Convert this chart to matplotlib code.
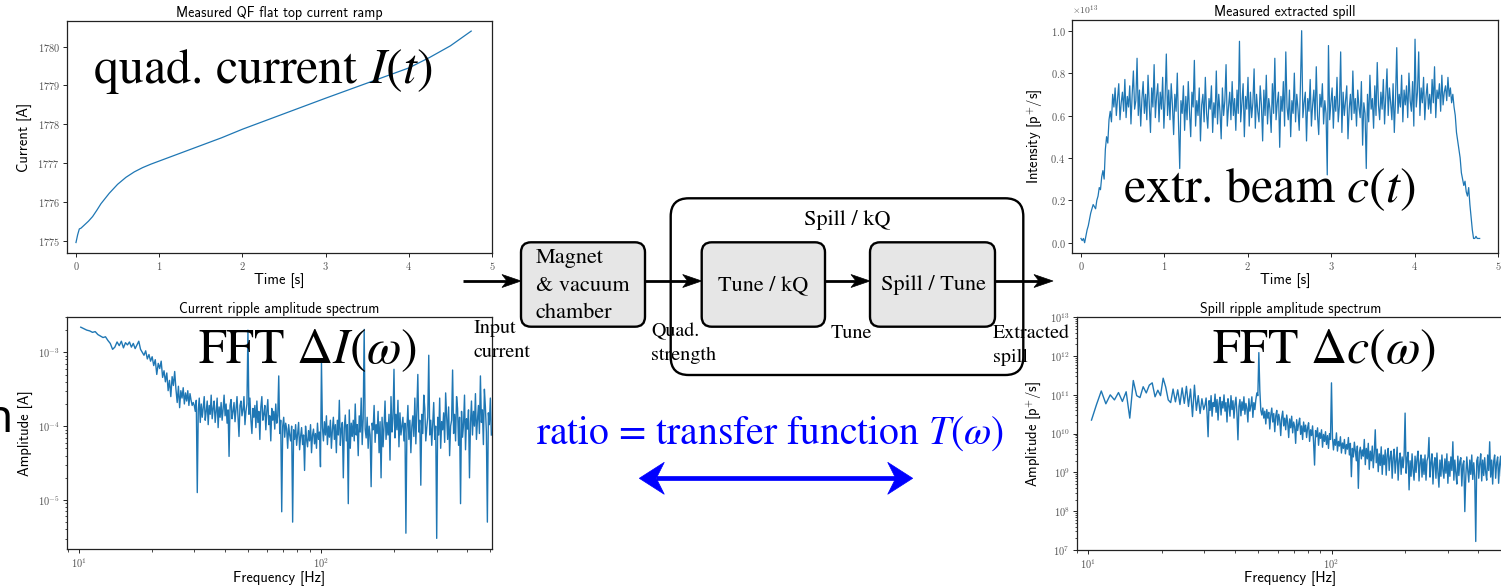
import numpy as np
import matplotlib.pyplot as plt
from matplotlib.patches import FancyBboxPatch, Polygon
from matplotlib.ticker import FuncFormatter, LogLocator, NullFormatter

plt.rcParams['mathtext.fontset'] = 'cm'

# ---------------- data ----------------
# measured QF flat top current ramp
ramp_t = [0.0, 0.02, 0.04, 0.06, 0.1, 0.15, 0.2, 0.25, 0.3, 0.4, 0.5, 0.6, 0.7, 0.8,
          0.9, 1.0, 1.25, 1.5, 1.75, 2.0, 2.5, 3.0, 3.5, 4.0, 4.25, 4.5, 4.75]
ramp_I = [1774.95, 1775.15, 1775.3, 1775.32, 1775.4, 1775.5, 1775.62, 1775.78, 1775.95,
          1776.22, 1776.45, 1776.63, 1776.77, 1776.88, 1776.97, 1777.05, 1777.25, 1777.45,
          1777.65, 1777.87, 1778.27, 1778.67, 1779.06, 1779.45, 1779.72, 1780.02, 1780.4]

# measured extracted spill, intensity in units of 1e11 p+/s
spill_t_end = 4.78
spill_1e11 = [
    2, 1, 2, 0, 3, 6, 8, 11, 14, 16, 18, 17, 16, 20, 22, 26, 25, 31, 34, 30, 44, 50, 47, 58, 62, 57,
    70, 64, 73, 60, 68, 75, 58, 66, 71, 62, 77, 59, 69, 64, 74, 56, 70, 81, 63, 67,
    87, 60, 72, 55, 68, 76, 61, 70, 58, 79, 66, 52, 73, 64, 84, 59, 69, 75, 57, 71,
    63, 78, 54, 68, 89, 60, 72, 58, 75, 65, 51, 70, 62, 80, 56, 35, 67, 61, 74, 53,
    69, 58, 76, 62, 50, 71, 64, 86, 55, 67, 60, 73, 48, 65, 70, 57, 78, 61, 54, 68,
    63, 74, 52, 66, 59, 81, 56, 70, 62, 49, 73, 60, 67, 84, 55, 64, 71, 58, 76, 60,
    68, 53, 72, 61, 95, 57, 66, 75, 50, 69, 63, 78, 55, 71, 59, 66, 82, 54, 70, 62,
    57, 74, 65, 48, 72, 60, 79, 56, 68, 63, 52, 75, 61, 87, 58, 66, 71, 45, 69, 62,
    76, 55, 90, 64, 58, 72, 50, 67, 61, 80, 57, 70, 63, 53, 74, 100, 59, 66, 71, 48,
    68, 62, 77, 55, 65, 72, 58, 83, 60, 51, 70, 64, 75, 56, 67, 61, 32, 93, 58, 66,
    73, 54, 69, 62, 78, 57, 65, 90, 52, 71, 60, 67, 74, 49, 63, 70, 58, 81, 61, 68,
    55, 72, 64, 59, 76, 46, 66, 61, 35, 70, 57, 79, 63, 68, 54, 74, 60, 85, 65, 58,
    71, 63, 77, 56, 69, 82, 60, 73, 66, 58, 75, 52, 68, 92, 61, 70, 64, 79, 57, 72,
    65, 74, 59, 80, 67, 62, 76, 55, 96, 64, 71, 90, 60, 73, 66, 78, 58, 69, 75, 63,
    70, 61, 77, 66, 83, 59, 72, 68, 75, 62, 79, 65, 71, 74, 67, 78, 69, 73, 66, 70,
    64, 60, 52, 48, 44, 40, 33, 30, 27, 29, 24, 22, 26, 18, 12, 6, 2, 2, 3, 2, 2, 2]

# current ripple amplitude spectrum, log10(A) x 100
cur_f0, cur_df = 10.2, 0.3          # low part on the FFT grid
cur_low = [-266, -268, -270, -271, -273, -272, -276, -278, -280, -279, -284, -288, -296, -293,
           -286, -291, -285, -294, -287, -290, -286, -293, -288, -295, -290, -285, -296, -300,
           -304, -298, -309, -303, -312, -306, -318, -310, -330, -315, -322, -312, -334, -325,
           -340, -328, -352, -338, -360, -333, -345, -326, -350, -368, -346, -375, -352, -362,
           -348, -370, -355, -366, -352, -372, -356, -365, -372, -368]
cur_high_f = (30.0, 505.0)          # dense part, thinned
cur_high = [
    -372, -380, -365, -490, -378, -362, -395, -370, -388, -375, -360, -392, -380, -366, -398, -372, -384, -358, -390, -376,
    -366, -395, -380, -362, -402, -374, -388, -368, -392, -377, -358, -386, -370, -396, -378, -441, -372, -364, -390, -380,
    -368, -394, -376, -360, -388, -414, -372, -366, -386, -378, -360, -398, -380, -370, -270, -384, -362, -392, -410, -376,
    -388, -372, -402, -366, -395, -380, -418, -374, -360, -392, -384, -372, -405, -380, -364, -398, -386, -420, -376, -392,
    -380, -404, -370, -396, -386, -332, -410, -392, -516, -400, -388, -415, -396, -404, -430, -398, -412, -420, -400, -530,
    -405, -418, -398, -426, -410, -395, -432, -414, -402, -425, -412, -460, -400, -418, -428, -406, -420, -398, -436, -412,
    -404, -424, -410, -430, -396, -418, -408, -455, -313, -402, -420, -394, -412, -386, -425, -400, -415, -392, -430, -405,
    -388, -418, -398, -436, -392, -412, -365, -426, -404, -395, -470, -402, -385, -420, -398, -505, -378, -430, -396, -414,
    -392, -420, -370, -412, -398, -440, -386, -408, -362, -425, -390, -269, -404, -416, -388, -430, -400, -412, -482, -396,
    -405, -372, -422, -398, -410, -380, -436, -394, -470, -388, -428, -400, -366, -418, -395, -412, -384, -446, -360, -408,
    -390, -323, -416, -384, -405, -365, -428, -382, -412, -400, -388, -420, -396, -545, -404, -372, -418, -392, -436, -400,
    -386, -414, -362, -424, -380, -330, -408, -392, -480, -384, -410, -358, -376, -420, -402, -388, -304, -412, -392, -426,
    -396, -368, -418, -400, -552, -388, -412, -362, -430, -394, -405, -382, -422, -355, -386, -418, -374, -440, -400, -392,
    -324, -410, -384, -420, -360, -376, -426, -388, -505, -380, -415, -398, -358, -432, -390, -404, -378, -470, -396, -366,
    -412, -380, -400, -356, -418, -392, -372, -410, -332, -395, -378, -425, -350, -374, -408, -530, -382, -398, -362, -412]

# spill ripple amplitude spectrum, log10(p+/s) x 100
sp_f0, sp_df = 10.3, 0.5
sp_low = [1035, 1075, 1110, 1077, 1100, 1087, 1106, 1083, 1108, 1040, 1137, 1098, 1093, 1121,
          1105, 1125, 1131, 1095, 1112, 1098, 1143, 1120, 1087, 1080, 1115, 1082, 1113, 1075,
          1118, 1078, 1122, 1070, 1115, 1044, 1125, 1060, 1098, 1052, 1090, 1062]
sp_high_f = (30.2, 505.0)
sp_high = [
    1075, 1092, 1050, 992, 1085, 1060, 1098, 1045, 1080, 1070, 1102, 1055, 1088, 1035, 1078, 1094, 1048, 1083, 1066, 1100,
    1058, 1080, 1030, 1090, 1072, 1045, 1098, 1062, 1085, 1040, 1075, 1094, 1052, 984, 1070, 1088, 1046, 1082, 1060, 1095,
    1050, 1078, 1065, 1030, 1090, 1058, 1072, 1095, 1042, 1080, 1062, 1088, 1105, 1098, 1209, 1112, 1060, 1048, 1066, 1040,
    1058, 1025, 1062, 1040, 1055, 1012, 1048, 1066, 1030, 1052, 1005, 1046, 1060, 1022, 1050, 1035, 995, 1042, 1058, 1020,
    1040, 1010, 1048, 1028, 990, 1038, 1015, 1045, 1002, 1030, 1018, 975, 1036, 1008, 1025, 1040, 998, 1020, 985, 1030,
    1005, 1022, 990, 1015, 1028, 980, 1010, 995, 1020, 978, 919, 1008, 992, 1015, 970, 1002, 988, 1010, 965, 998,
    980, 1005, 972, 995, 962, 1000, 985, 1131, 990, 958, 985, 970, 1002, 955, 980, 968, 992, 950, 976, 962,
    985, 948, 972, 960, 990, 945, 975, 889, 962, 940, 978, 955, 930, 968, 859, 952, 965, 935, 958, 942,
    985, 920, 962, 935, 975, 908, 955, 930, 968, 912, 950, 1010, 925, 960, 902, 948, 918, 966, 895, 945,
    920, 958, 893, 945, 962, 905, 940, 955, 885, 938, 960, 898, 932, 965, 880, 930, 950, 895, 940, 912,
    945, 1053, 898, 935, 952, 855, 930, 890, 948, 905, 880, 942, 900, 936, 955, 878, 925, 945, 888, 935,
    895, 945, 880, 930, 940, 990, 888, 925, 948, 870, 922, 938, 885, 950, 900, 862, 932, 890, 945, 905,
    885, 935, 898, 948, 872, 928, 890, 940, 905, 979, 880, 932, 898, 870, 942, 892, 928, 938, 865, 920,
    930, 799, 890, 940, 905, 875, 932, 895, 945, 882, 925, 888, 722, 930, 940, 885, 922, 948, 878, 932,
    892, 938, 900, 880, 945, 905, 979, 888, 932, 870, 928, 945, 885, 925, 940, 872, 920, 942, 890, 930]


def spectrum(f0, df, low, f_hi, high):
    f_low = f0 + df * np.arange(len(low))
    f_high = np.geomspace(f_hi[0], f_hi[1], len(high))
    return np.concatenate([f_low, f_high]), 10 ** (np.array(low + high) / 100)


cur_f, cur_amp = spectrum(cur_f0, cur_df, cur_low, cur_high_f, cur_high)
sp_f, sp_amp = spectrum(sp_f0, sp_df, sp_low, sp_high_f, sp_high)
spill_t = np.linspace(0, spill_t_end, len(spill_1e11))
spill_I = np.array(spill_1e11) / 100  # in 1e13

# ---------------- figure ----------------
W, H = 1501, 586
fig = plt.figure(figsize=(W / 100, H / 100), dpi=100)
blue = '#1f77b4'


def px_axes(x0, y0, x1, y1):
    return fig.add_axes([x0 / W, 1 - y1 / H, (x1 - x0) / W, (y1 - y0) / H])


def style(ax, title, xlabel, ylabel):
    ax.set_title(title, fontfamily='cmss10', fontsize=10, pad=3)
    ax.set_xlabel(xlabel, fontfamily='cmss10', fontsize=10.5, labelpad=0.5)
    ax.set_ylabel(ylabel, fontfamily='cmss10', fontsize=10.5, labelpad=4)
    ax.tick_params(labelsize=7.5, labelcolor='#555555', length=3, width=0.6, pad=2)
    ax.tick_params(which='minor', length=1.8, width=0.5)
    for s in ax.spines.values():
        s.set_linewidth(0.9)
        s.set_color('#222222')


def pow10(v, pos):
    return r'$10^{%d}$' % round(np.log10(v))


def log_ticks(axis):
    axis.set_major_locator(LogLocator(base=10, numticks=20))
    axis.set_minor_locator(LogLocator(base=10, subs=np.arange(2, 10), numticks=20))
    axis.set_major_formatter(FuncFormatter(pow10))
    axis.set_minor_formatter(NullFormatter())


# top left: current ramp
ax1 = px_axes(67, 21, 492, 253)
ax1.plot(ramp_t, ramp_I, color=blue, lw=0.9)
ax1.set_xlim(-0.108, 5)
ax1.set_ylim(1774.68, 1780.66)
ax1.set_yticks([1775, 1776, 1777, 1778, 1779, 1780])
ax1.xaxis.set_major_formatter(FuncFormatter(lambda v, p: r'$%d$' % v))
ax1.yaxis.set_major_formatter(FuncFormatter(lambda v, p: r'$%d$' % v))
style(ax1, 'Measured QF flat top current ramp', 'Time [s]', 'Current [A]')

# bottom left: current spectrum
ax2 = px_axes(67, 316.7, 492, 549.3)
ax2.plot(cur_f, cur_amp, color=blue, lw=1.0)
ax2.set_xscale('log')
ax2.set_yscale('log')
ax2.set_xlim(10 ** 0.9517, 10 ** 2.706)
ax2.set_ylim(10 ** -5.668, 10 ** -2.518)
log_ticks(ax2.xaxis)
log_ticks(ax2.yaxis)
style(ax2, 'Current ripple amplitude spectrum', 'Frequency [Hz]', 'Amplitude [A]')

# top right: extracted spill
ax3 = px_axes(1072.3, 20, 1498, 253)
ax3.plot(spill_t, spill_I, color=blue, lw=0.9)
ax3.set_xlim(-0.104, 5)
ax3.set_ylim(-0.0486, 1.0505)
ax3.set_yticks([0, 0.2, 0.4, 0.6, 0.8, 1.0])
ax3.xaxis.set_major_formatter(FuncFormatter(lambda v, p: r'$%d$' % v))
ax3.yaxis.set_major_formatter(FuncFormatter(lambda v, p: r'$%.1f$' % v))
ax3.text(0, 1.012, r'$\times10^{13}$', transform=ax3.transAxes, fontsize=7,
         color='#555555', ha='left', va='bottom')
style(ax3, 'Measured extracted spill', 'Time [s]', r'Intensity [p$^{+}$/s]')

# bottom right: spill spectrum
ax4 = px_axes(1076.7, 317.3, 1504, 550)
ax4.plot(sp_f, sp_amp, color=blue, lw=1.0)
ax4.set_xscale('log')
ax4.set_yscale('log')
ax4.set_xlim(10 ** 0.952, 10 ** 2.709)
ax4.set_ylim(1e7, 1e13)
log_ticks(ax4.xaxis)
log_ticks(ax4.yaxis)
style(ax4, 'Spill ripple amplitude spectrum', 'Frequency [Hz]', r'Amplitude [p$^{+}$/s]')

# ---------------- overlay: labels and block diagram (pixel coords) ----------------
ov = fig.add_axes([0, 0, 1, 1], zorder=10)
ov.set_xlim(0, W)
ov.set_ylim(H, 0)
ov.axis('off')

big = dict(fontfamily='STIXGeneral', math_fontfamily='stix', fontsize=36,
           ha='left', va='baseline', zorder=6)
ov.text(93, 83.3, r'quad. current $I(t)$', **big)
ov.text(198, 362.7, r'FFT $\Delta I(\omega)$', **big)
ov.text(1123, 201.7, r'extr. beam $c(t)$', **big)
ov.text(1212, 362.7, r'FFT $\Delta c(\omega)$', **big)
ov.text(536, 443.3, r'ratio = transfer function $T(\omega)$', fontfamily='STIXGeneral',
        math_fontfamily='stix', fontsize=28.5, color='blue', ha='left', va='baseline')
ov.text(12, 432, 'n', fontfamily='Noto Sans', fontsize=33, ha='right', va='baseline')


def rbox(x0, y0, x1, y1, r, fc, z=3):
    ov.add_patch(FancyBboxPatch((x0, y0), x1 - x0, y1 - y0,
                                boxstyle='round,pad=0,rounding_size=%g' % r,
                                fc=fc, ec='black', lw=1.7, zorder=z))


def head(tip, y, d, hl, hw, notch, color):
    pts = [(tip, y), (tip - d * hl, y - hw), (tip - d * (hl - notch), y), (tip - d * hl, y + hw)]
    ov.add_patch(Polygon(pts, closed=True, fc=color, ec=color, lw=0.5, zorder=4))


def arrow(x0, x1, y, color='black', lw=2.0, hl=19, hw=6.5, notch=5, both=False):
    xs = x0 + (hl - notch) if both else x0
    ov.plot([xs, x1 - (hl - notch)], [y, y], color=color, lw=lw, solid_capstyle='butt', zorder=4)
    head(x1, y, 1, hl, hw, notch, color)
    if both:
        head(x0, y, -1, hl, hw, notch, color)


rbox(670.7, 198.3, 1023.3, 375, 18, 'none', z=2)
rbox(521, 242.3, 645, 326.7, 10, '#e6e6e6')
rbox(701.7, 242.3, 825, 326.7, 10, '#e6e6e6')
rbox(870, 242.3, 995, 326.7, 10, '#e6e6e6')

arrow(463, 521, 281)
arrow(645, 701.7, 281)
arrow(825, 870, 281)
arrow(995, 1053, 281)
arrow(639.3, 912.7, 478.3, color='blue', lw=3.4, hl=25, hw=16, notch=8, both=True)

box_txt = dict(fontfamily='STIXGeneral', fontsize=16, va='baseline', zorder=6)
lab_txt = dict(fontfamily='STIXGeneral', fontsize=14.5, ha='left', va='baseline', zorder=6)
for line, yb in zip(['Magnet', '& vacuum', 'chamber'], [263.3, 290.7, 317.7]):
    ov.text(536, yb, line, ha='left', **box_txt)
ov.text(763, 290, 'Tune / kQ', ha='center', **box_txt)
ov.text(933, 290, 'Spill / Tune', ha='center', **box_txt)
ov.text(847, 225, 'Spill / kQ', ha='center', **box_txt)
ov.text(474, 332.7, 'Input', **lab_txt)
ov.text(474, 356.7, 'current', **lab_txt)
ov.text(651, 336.7, 'Quad.', **lab_txt)
ov.text(651, 360, 'strength', **lab_txt)
ov.text(830.7, 338, 'Tune', **lab_txt)
ov.text(993, 338, 'Extracted', **lab_txt)
ov.text(993, 361.7, 'spill', **lab_txt)

fig.savefig('out.png', dpi=100)
